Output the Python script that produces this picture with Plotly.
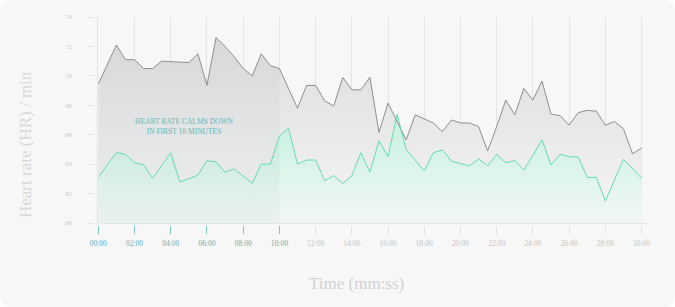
import plotly.graph_objects as go

# ---------------- data ----------------
minutes = [0.0, 0.5, 1.0, 1.5, 2.0, 2.5, 3.0, 3.5, 4.0, 4.5, 5.0, 5.5, 6.0, 6.5, 7.0, 7.5,
           8.0, 8.5, 9.0, 9.5, 10.0, 10.5, 11.0, 11.5, 12.0, 12.5, 13.0, 13.5, 14.0, 14.5,
           15.0, 15.5, 16.0, 16.5, 17.0, 17.5, 18.0, 18.5, 19.0, 19.5, 20.0, 20.5, 21.0,
           21.5, 22.0, 22.5, 23.0, 23.5, 24.0, 24.5, 25.0, 25.5, 26.0, 26.5, 27.0, 27.5,
           28.0, 28.5, 29.0, 29.5, 30.0]

hr_grey = [69.45, 70.8, 72.1, 71.1, 71.1, 70.5, 70.5, 71.0, 70.97, 70.93, 70.9, 71.5,
           69.35, 72.6, 72.0, 71.3, 70.5, 70.0, 71.5, 70.7, 70.5, 69.15, 67.8, 69.35,
           69.35, 68.3, 67.95, 69.9, 69.05, 69.05, 69.9, 66.15, 68.15, 66.9, 65.65, 67.35,
           67.1, 66.8, 66.2, 67.0, 66.8, 66.8, 66.55, 64.9, 66.55, 68.35, 67.35, 69.15,
           68.35, 69.65, 67.4, 67.3, 66.65, 67.5, 67.65, 67.6, 66.65, 66.9, 66.4, 64.7, 65.1]

hr_teal = [63.1, 63.95, 64.8, 64.65, 64.1, 63.95, 63.04, 63.9, 64.77, 62.78, 63.0, 63.25,
           64.24, 64.15, 63.45, 63.67, 63.2, 62.7, 64.0, 64.0, 65.9, 66.44, 64.0, 64.28,
           64.28, 62.88, 63.22, 62.7, 63.2, 64.78, 63.45, 65.6, 64.5, 67.4, 65.0, 64.27,
           63.54, 64.78, 64.97, 64.2, 64.06, 63.88, 64.35, 63.9, 64.67, 64.1, 64.24, 63.6,
           64.6, 65.65, 63.95, 64.67, 64.5, 64.5, 63.1, 63.1, 61.5, 62.9, 64.33, 63.7, 63.04]

x_tick_vals = [0, 2, 4, 6, 8, 10, 12, 14, 16, 18, 20, 22, 24, 26, 28, 30]
x_tick_text = ["00:00", "02:00", "04:00", "06:00", "08:00", "10:00", "12:00", "14:00",
               "16:00", "18:00", "20:00", "22:00", "24:00", "26:00", "28:00", "30:00"]
y_tick_vals = [60, 62, 64, 66, 68, 70, 72, 74]
highlight_end = 10.0

# ---------------- geometry ----------------
W, H = 675, 307
ML, MR, MT, MB = 94, 28, 17, 82
PW, PH = W - ML - MR, H - MT - MB


def px(x):
    return (x - ML) / PW


def py(y):
    return (H - MB - y) / PH


SERIF = "Liberation Serif, Times New Roman, serif"
TEAL = "#66dab0"
GREY_LINE = "#8e8e8e"

n_hl = sum(1 for m in minutes if m <= highlight_end)

fig = go.Figure()

# grey area
fig.add_trace(go.Scatter(
    x=minutes, y=hr_grey, mode="lines", line=dict(width=0),
    fill="tozeroy",
    fillgradient=dict(type="vertical", start=60, stop=73,
                      colorscale=[[0, "rgb(245,245,245)"], [1, "rgb(220,220,220)"]]),
    hoverinfo="skip", showlegend=False))

# teal area
fig.add_trace(go.Scatter(
    x=minutes, y=hr_teal, mode="lines", line=dict(width=0),
    fill="tozeroy",
    fillgradient=dict(type="vertical", start=60, stop=67,
                      colorscale=[[0, "rgb(242,247,245)"], [1, "rgb(200,241,224)"]]),
    hoverinfo="skip", showlegend=False))

# highlight of the first 10 minutes
fig.add_trace(go.Scatter(
    x=minutes[:n_hl], y=hr_grey[:n_hl], mode="lines", line=dict(width=0),
    fill="tozeroy", fillcolor="rgba(100,140,165,0.05)",
    hoverinfo="skip", showlegend=False))

# lines
fig.add_trace(go.Scatter(x=minutes, y=hr_grey, mode="lines",
                         line=dict(color=GREY_LINE, width=1), showlegend=False))
fig.add_trace(go.Scatter(x=minutes, y=hr_teal, mode="lines",
                         line=dict(color=TEAL, width=1), showlegend=False))

x_dom = [px(98.3), 1]
y_dom = [py(223), 1]
x_range = [0, 30.3]
y_range = [60, 74]

# rounded card background
r = 12
pts = [("M", r, 0), ("L", W - r, 0), ("Q", W, 0, W, r), ("L", W, H - r),
       ("Q", W, H, W - r, H), ("L", r, H), ("Q", 0, H, 0, H - r), ("L", 0, r),
       ("Q", 0, 0, r, 0)]
path = ""
for p in pts:
    cmd = p[0]
    coords = p[1:]
    s = " ".join(f"{px(coords[i]):.5f},{py(coords[i+1]):.5f}" for i in range(0, len(coords), 2))
    path += f"{cmd} {s} "
path += "Z"

fig.update_layout(
    width=W, height=H,
    margin=dict(l=ML, r=MR, t=MT, b=MB),
    paper_bgcolor="white",
    plot_bgcolor="rgba(0,0,0,0)",
    shapes=[dict(type="path", path=path, xref="paper", yref="paper",
                 fillcolor="#f7f7f7", line=dict(width=0), layer="below")],
    xaxis=dict(domain=x_dom, range=x_range, tickvals=x_tick_vals, showticklabels=False,
               ticks="", showgrid=True, gridcolor="#e4e4e4", gridwidth=1,
               showline=True, linecolor="#e6e6e6", linewidth=1, zeroline=False),
    yaxis=dict(domain=y_dom, range=y_range, showgrid=False, showticklabels=False,
               ticks="", showline=True, linecolor="#e2e2e2", linewidth=1, zeroline=False),
    xaxis2=dict(overlaying="x", anchor="free", position=0, range=x_range,
                tickvals=x_tick_vals[:6], ticktext=x_tick_text[:6],
                ticks="outside", ticklen=8, tickcolor="#7cc7bd", tickwidth=1,
                ticklabelstandoff=3,
                tickfont=dict(family=SERIF, size=7.5, color="#5fb0b0"),
                showgrid=False, showline=False, zeroline=False),
    xaxis3=dict(overlaying="x", anchor="free", position=0, range=x_range,
                tickvals=x_tick_vals[6:], ticktext=x_tick_text[6:],
                ticks="outside", ticklen=8, tickcolor="#e0e0e0", tickwidth=1,
                ticklabelstandoff=3,
                tickfont=dict(family=SERIF, size=7.5, color="#c4c4c4"),
                showgrid=False, showline=False, zeroline=False),
    yaxis2=dict(overlaying="y", anchor="free", position=0, range=y_range,
                tickvals=y_tick_vals, ticks="outside", ticklen=6, tickcolor="#e2e2e2",
                ticklabelstandoff=15,
                tickfont=dict(family=SERIF, size=6.5, color="#c8c8c8"),
                showgrid=False, showline=False, zeroline=False),
    annotations=[
        dict(text="HEART RATE CALMS DOWN<br>IN FIRST 10 MINUTES", xref="paper", yref="paper",
             x=px(184), y=py(126), xanchor="center", yanchor="middle",
             showarrow=False, align="center",
             font=dict(family=SERIF, size=7.5, color="#66b9b4")),
        dict(text="Time (mm:ss)", xref="paper", yref="paper", x=px(356), y=py(283),
             xanchor="center", yanchor="middle",
             showarrow=False, font=dict(family=SERIF, size=17, color="#d2d2d2")),
        dict(text="Heart rate (HR) / min", xref="paper", yref="paper", x=px(25), y=py(145),
             xanchor="center", yanchor="middle",
             textangle=-90, showarrow=False,
             font=dict(family=SERIF, size=17, color="#d8d8d8")),
    ],
)

# attach invisible traces so overlay axes render
fig.add_trace(go.Scatter(x=[None], y=[None], xaxis="x2", showlegend=False, hoverinfo="skip"))
fig.add_trace(go.Scatter(x=[None], y=[None], xaxis="x3", showlegend=False, hoverinfo="skip"))
fig.add_trace(go.Scatter(x=[None], y=[None], yaxis="y2", showlegend=False, hoverinfo="skip"))

fig.write_html("out.html")
